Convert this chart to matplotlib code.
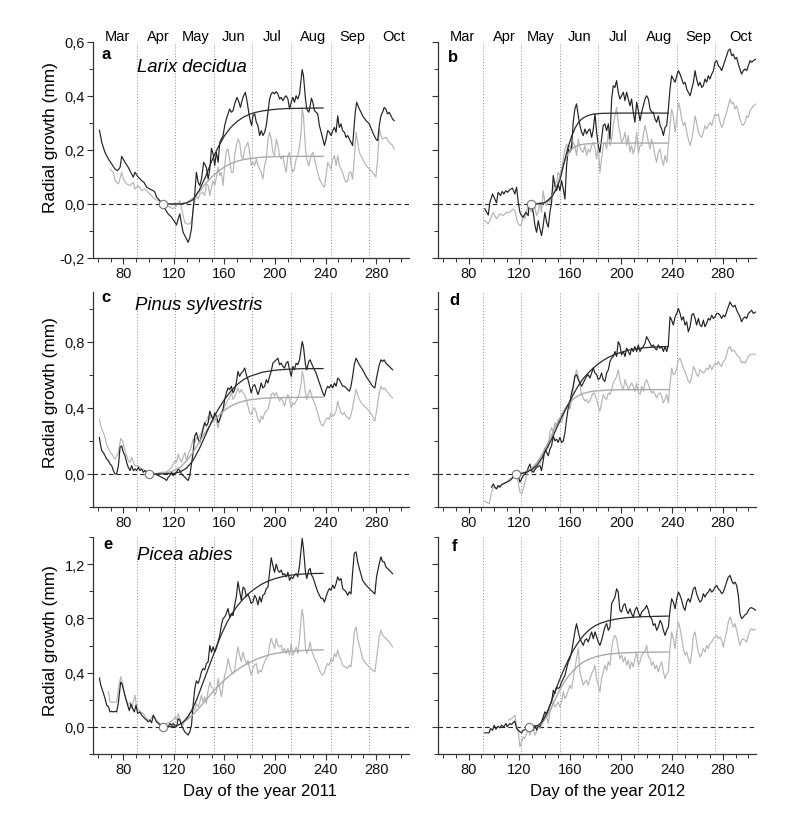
import matplotlib
matplotlib.use('Agg')
import matplotlib.pyplot as plt
from matplotlib.ticker import MultipleLocator, FixedLocator, FuncFormatter
import matplotlib.transforms as mtrans

plt.rcParams['font.family'] = ['Liberation Sans', 'DejaVu Sans']

# ---------------- data ----------------
months = ['Mar', 'Apr', 'May', 'Jun', 'Jul', 'Aug', 'Sep', 'Oct']
month_label_days = [75, 108, 137, 167, 198, 230, 261, 294]
month_start_days = [91, 121, 152, 182, 213, 244, 274]
x_major_ticks = [80, 120, 160, 200, 240, 280]
panel_letters = ['a', 'b', 'c', 'd', 'e', 'f']
species = ['Larix decidua', 'Pinus sylvestris', 'Picea abies']
xlabels = ['Day of the year 2011', 'Day of the year 2012']
ylabel = 'Radial growth (mm)'

# onset points (day, value)
onsets = {'a': (111.6, 0.0), 'b': (129.0, 0.0), 'c': (100.5, 0.0),
          'd': (117.2, 0.0), 'e': (111.6, 0.0), 'f': (127.7, 0.0)}

# ---- panel a (Larix 2011) ----
a_black = [(61.1,0.273),(62.9,0.228),(65.5,0.19),(68.2,0.166),(70.8,0.148),(73.4,0.129),(75.3,0.123),(77.4,0.135),(78.7,0.176),(81.3,0.154),(83.9,0.135),(86.6,0.111),(87.9,0.099),(89.2,0.117),(91.8,0.099),(94.5,0.086),(96.3,0.080),(98.4,0.062),(101.0,0.055),(103.7,0.049),(105.0,0.043),(106.3,0.025),(108.9,0.012),(111.0,0.0),(112.9,-0.018),(115.5,-0.037),(118.1,-0.049),(120.8,-0.068),(122.1,-0.078),(123.4,-0.055),(124.7,-0.037),(126.0,-0.074),(127.3,-0.105),(129.2,-0.123),(131.3,-0.142),(132.6,-0.123),(133.9,-0.092),(135.2,-0.018),(136.5,0.037),(137.8,0.117),(139.2,0.080),(140.5,0.068),(141.8,0.092),(143.6,0.154),(145.7,0.135),(147.1,0.092),(148.4,0.129),(149.7,0.206),(151.0,0.185),(152.3,0.142),(153.6,0.191),(155.0,0.154),(156.3,0.228),(157.6,0.24),(158.9,0.253),(160.2,0.29),(161.5,0.314),(162.8,0.333),(164.1,0.351),(165.5,0.339),(166.8,0.345),(168.1,0.37),(169.4,0.388),(169.9,0.394),(171.5,0.376),(172.6,0.357),(173.9,0.382),(175.2,0.4),(176.5,0.413),(177.8,0.382),(179.4,0.333),(180.4,0.308),(181.5,0.29),(182.5,0.326),(183.9,0.333),(185.2,0.302),(186.5,0.29),(187.8,0.253),(189.1,0.271),(190.4,0.253),(191.8,0.265),(193.1,0.29),(194.4,0.339),(195.7,0.388),(197.0,0.407),(198.3,0.413),(199.6,0.407),(201.0,0.415),(202.3,0.407),(203.6,0.388),(204.9,0.394),(206.2,0.382),(207.5,0.394),(208.8,0.40),(210.2,0.388),(211.5,0.351),(212.8,0.376),(214.1,0.394),(215.4,0.376),(216.7,0.40),(218.0,0.388),(219.4,0.407),(220.7,0.462),(221.5,0.497),(222.5,0.474),(224.1,0.388),(225.1,0.351),(226.7,0.339),(227.8,0.363),(228.8,0.391),(229.9,0.376),(231.2,0.345),(232.5,0.339),(233.8,0.333),(235.1,0.29),(236.5,0.265),(237.8,0.24),(239.1,0.216),(240.4,0.24),(241.7,0.271),(243.0,0.265),(244.3,0.253),(245.7,0.271),(247.0,0.283),(248.3,0.265),(249.6,0.326),(250.9,0.283),(252.2,0.296),(253.5,0.271),(254.9,0.265),(256.2,0.246),(257.5,0.253),(258.8,0.24),(260.1,0.228),(261.4,0.216),(262.2,0.265),(263.5,0.339),(264.6,0.376),(266.2,0.357),(268.0,0.339),(269.3,0.326),(272.0,0.308),(274.6,0.296),(277.2,0.265),(279.8,0.24),(281.2,0.234),(282.5,0.29),(283.8,0.326),(285.1,0.339),(286.4,0.357),(287.7,0.351),(289.0,0.333),(290.4,0.339),(291.7,0.326),(293.0,0.314),(294.3,0.308)]
a_gray = [(69.5,0.129),(72.1,0.117),(73.4,0.086),(76.1,0.074),(78.7,0.117),(80.0,0.092),(82.6,0.074),(85.3,0.068),(87.9,0.080),(89.2,0.055),(91.8,0.068),(94.5,0.049),(97.1,0.055),(99.7,0.043),(102.4,0.031),(105.0,0.018),(107.6,0.012),(110.2,0.006),(111.6,0.0),(114.2,-0.006),(116.8,-0.012),(119.4,-0.018),(122.1,-0.006),(124.7,0.012),(127.3,-0.043),(128.6,-0.068),(130.0,-0.074),(132.6,-0.074),(133.9,-0.062),(135.2,-0.031),(136.5,0.012),(137.8,0.031),(139.2,0.018),(140.5,0.037),(143.1,0.043),(144.4,0.031),(145.7,0.074),(147.1,0.068),(148.4,0.031),(149.7,0.062),(151.0,0.086),(152.3,0.068),(153.6,0.099),(155.0,0.136),(156.3,0.105),(157.6,0.117),(158.9,0.068),(160.2,0.142),(161.5,0.197),(162.8,0.203),(164.1,0.166),(165.5,0.117),(166.8,0.117),(168.1,0.179),(169.4,0.216),(170.7,0.24),(172.0,0.228),(173.3,0.179),(174.7,0.166),(176.0,0.203),(177.3,0.216),(178.6,0.228),(179.9,0.191),(181.2,0.142),(182.5,0.154),(183.9,0.142),(185.2,0.166),(186.5,0.142),(187.8,0.129),(189.1,0.117),(190.4,0.092),(191.8,0.142),(193.1,0.166),(194.4,0.24),(195.7,0.265),(197.0,0.24),(198.3,0.191),(199.6,0.179),(201.0,0.24),(202.3,0.216),(203.6,0.179),(204.9,0.166),(206.2,0.179),(207.5,0.142),(208.8,0.117),(210.2,0.179),(211.5,0.191),(212.8,0.142),(214.1,0.117),(215.4,0.129),(216.7,0.166),(218.0,0.179),(219.4,0.216),(220.7,0.265),(221.5,0.351),(222.5,0.326),(224.1,0.203),(225.1,0.166),(226.7,0.142),(228.5,0.179),(229.9,0.191),(231.2,0.166),(232.5,0.142),(233.8,0.117),(235.1,0.092),(236.5,0.080),(237.8,0.068),(239.1,0.062),(240.4,0.105),(241.7,0.154),(243.0,0.142),(244.3,0.129),(245.7,0.166),(247.0,0.179),(248.3,0.142),(249.6,0.179),(250.9,0.142),(252.2,0.129),(253.5,0.117),(254.9,0.092),(256.2,0.080),(257.5,0.086),(258.8,0.117),(260.1,0.117),(261.4,0.092),(262.7,0.166),(264.1,0.265),(265.4,0.228),(266.7,0.191),(269.3,0.166),(272.0,0.142),(274.6,0.129),(277.2,0.117),(279.8,0.099),(281.2,0.166),(282.5,0.277),(283.8,0.253),(285.1,0.24),(287.7,0.246),(290.4,0.228),(293.0,0.216),(294.3,0.203)]
a_fit_black = [(111.6,0.0),(125,0.0),(130,0.003),(135,0.015),(140,0.05),(145,0.1),(150,0.16),(155,0.21),(160,0.252),(165,0.283),(170,0.305),(175,0.321),(180,0.332),(185,0.339),(190,0.344),(200,0.35),(210,0.353),(225,0.354),(238,0.355)]
a_fit_gray = [(111.6,0.0),(125,0.0),(130,0.005),(135,0.02),(140,0.045),(145,0.075),(150,0.1),(155,0.12),(160,0.137),(165,0.149),(170,0.158),(175,0.164),(180,0.168),(190,0.173),(200,0.175),(215,0.176),(238,0.176)]

# ---- panel b (Larix 2012) ----
b_black = [(92.8,-0.018),(95.5,-0.041),(96.8,0.006),(98.9,0.037),(100.7,0.018),(102.0,0.004),(103.3,0.043),(105.2,0.031),(106.5,0.046),(107.8,0.037),(109.4,0.049),(110.7,0.043),(112.5,0.053),(114.6,0.058),(116.4,0.037),(117.8,0.062),(119.1,0.006),(120.4,-0.031),(121.7,-0.043),(123.0,-0.049),(125.1,-0.031),(126.9,-0.043),(127.7,0.0),(129.6,-0.012),(130.9,-0.031),(132.2,-0.080),(133.5,-0.105),(134.8,-0.062),(136.1,-0.092),(137.4,-0.117),(138.7,-0.080),(140.0,-0.031),(141.4,-0.068),(142.7,-0.086),(144.0,-0.031),(145.3,0.006),(146.6,0.105),(147.9,0.068),(149.2,0.049),(150.5,0.074),(151.8,0.049),(153.2,0.086),(154.5,0.055),(155.8,0.018),(157.1,0.142),(158.4,0.203),(159.7,0.191),(161.0,0.209),(162.3,0.302),(163.6,0.351),(164.9,0.370),(166.3,0.326),(167.6,0.290),(168.9,0.265),(170.2,0.253),(171.5,0.277),(172.8,0.259),(174.1,0.271),(175.4,0.277),(176.8,0.246),(178.1,0.277),(179.4,0.333),(180.7,0.265),(182.0,0.216),(183.3,0.191),(184.6,0.240),(185.9,0.290),(187.2,0.296),(188.6,0.271),(189.9,0.296),(191.2,0.240),(192.5,0.388),(193.8,0.437),(195.1,0.431),(196.4,0.456),(197.7,0.413),(199.0,0.388),(200.3,0.400),(201.7,0.413),(203.0,0.382),(204.3,0.413),(205.6,0.388),(206.9,0.363),(208.2,0.388),(209.5,0.339),(210.8,0.302),(212.2,0.376),(213.5,0.345),(214.8,0.308),(216.1,0.339),(217.4,0.363),(218.7,0.388),(220.0,0.400),(221.4,0.388),(222.7,0.351),(224.0,0.339),(225.3,0.339),(226.6,0.314),(227.9,0.302),(229.2,0.326),(230.6,0.290),(231.9,0.277),(233.2,0.253),(234.5,0.283),(235.8,0.290),(237.1,0.351),(238.4,0.425),(239.7,0.474),(241.0,0.462),(242.4,0.450),(243.7,0.474),(245.0,0.493),(246.3,0.480),(247.6,0.462),(248.9,0.444),(250.2,0.450),(251.5,0.425),(252.8,0.413),(254.2,0.400),(255.5,0.425),(256.8,0.450),(258.1,0.493),(259.3,0.462),(260.7,0.437),(262.0,0.450),(263.3,0.431),(264.6,0.437),(265.9,0.462),(267.2,0.450),(268.5,0.474),(269.8,0.462),(271.2,0.480),(272.5,0.493),(273.8,0.524),(275.1,0.530),(276.4,0.511),(277.7,0.505),(279.0,0.493),(280.3,0.511),(281.6,0.530),(282.9,0.548),(284.2,0.567),(285.6,0.573),(286.9,0.548),(288.2,0.554),(289.5,0.536),(290.8,0.542),(292.1,0.517),(293.4,0.499),(294.7,0.480),(296.0,0.493),(297.4,0.499),(298.7,0.493),(300.0,0.511),(301.3,0.530),(302.6,0.524),(303.9,0.530),(306.0,0.536)]
b_gray = [(92.8,-0.062),(95.5,-0.074),(96.8,-0.062),(99.4,-0.031),(102.0,-0.055),(104.6,-0.037),(107.3,-0.043),(109.9,-0.031),(112.5,-0.031),(115.1,-0.018),(116.4,-0.025),(117.8,-0.055),(119.1,-0.074),(120.4,-0.080),(121.7,-0.074),(123.0,-0.043),(124.3,-0.055),(125.6,-0.031),(126.9,-0.006),(129.6,-0.031),(132.2,-0.012),(133.5,-0.043),(134.8,-0.031),(136.1,0.006),(137.4,-0.031),(138.7,0.049),(140.0,0.006),(141.4,-0.006),(142.7,0.018),(144.0,0.006),(145.3,0.037),(146.6,0.055),(147.9,0.074),(149.2,0.086),(150.5,0.117),(151.8,0.105),(153.2,0.123),(154.5,0.166),(155.8,0.203),(157.1,0.222),(158.4,0.203),(159.7,0.216),(161.0,0.203),(162.3,0.228),(163.6,0.216),(164.9,0.179),(166.3,0.240),(167.6,0.209),(168.9,0.197),(170.2,0.191),(171.5,0.216),(172.8,0.179),(174.1,0.203),(175.4,0.191),(176.8,0.216),(178.1,0.228),(179.4,0.209),(180.7,0.166),(182.0,0.216),(183.3,0.117),(184.6,0.166),(185.9,0.216),(187.2,0.228),(188.6,0.203),(189.9,0.265),(191.2,0.216),(192.5,0.240),(193.8,0.290),(195.1,0.326),(196.4,0.357),(197.7,0.296),(199.0,0.265),(200.3,0.228),(201.7,0.240),(203.0,0.265),(204.3,0.216),(205.6,0.253),(206.9,0.191),(208.2,0.216),(209.5,0.185),(210.8,0.209),(212.2,0.265),(213.5,0.185),(214.8,0.216),(216.1,0.216),(217.4,0.253),(218.7,0.290),(220.0,0.265),(221.4,0.228),(222.7,0.203),(224.0,0.240),(225.3,0.216),(226.6,0.179),(227.9,0.154),(229.2,0.191),(230.6,0.203),(231.9,0.166),(233.2,0.142),(234.5,0.179),(235.8,0.154),(237.1,0.216),(238.4,0.290),(239.7,0.351),(241.0,0.326),(242.4,0.265),(243.7,0.314),(245.0,0.376),(246.3,0.351),(247.6,0.314),(248.9,0.290),(250.2,0.302),(251.5,0.265),(252.8,0.240),(254.2,0.216),(255.5,0.240),(256.8,0.277),(258.1,0.326),(259.3,0.302),(260.7,0.265),(262.0,0.253),(263.3,0.246),(264.6,0.265),(265.9,0.290),(267.2,0.277),(268.5,0.290),(269.8,0.302),(271.2,0.290),(272.5,0.314),(273.8,0.333),(275.1,0.326),(276.4,0.333),(277.7,0.302),(279.0,0.283),(280.3,0.296),(281.6,0.320),(282.9,0.339),(284.2,0.363),(285.6,0.388),(286.9,0.370),(288.2,0.376),(289.5,0.351),(290.8,0.363),(292.1,0.339),(293.4,0.314),(294.7,0.296),(296.0,0.290),(297.4,0.302),(298.7,0.326),(300.0,0.320),(301.3,0.345),(303.9,0.363),(306.0,0.370)]
b_fit_black = [(129,0.0),(135,0.0),(140,0.005),(143,0.015),(146,0.03),(149,0.055),(152,0.09),(155,0.15),(158,0.205),(161,0.25),(164,0.283),(167,0.305),(170,0.318),(174,0.327),(178,0.332),(185,0.335),(200,0.336),(237,0.336)]
b_fit_gray = [(129,0.0),(140,0.005),(145,0.025),(148,0.05),(151,0.09),(154,0.14),(157,0.175),(160,0.197),(163,0.21),(167,0.218),(172,0.222),(180,0.224),(200,0.225),(237,0.225)]

# ---- panel c (Pinus 2011) ----
c_black = [(61.1,0.22),(61.6,0.19),(62.9,0.14),(64.2,0.13),(65.5,0.11),(66.8,0.09),(68.2,0.08),(69.5,0.06),(70.8,0.05),(72.1,0.02),(73.4,0.0),(74.7,0.0),(76.1,0.05),(77.4,0.16),(78.7,0.17),(80.0,0.13),(81.3,0.11),(82.6,0.07),(83.9,0.04),(85.3,0.02),(86.6,0.05),(87.9,0.02),(89.2,0.03),(90.5,0.02),(91.8,0.04),(93.1,0.02),(94.5,0.03),(95.8,0.01),(97.1,0.02),(98.4,0.01),(99.7,0.0),(102.4,0.01),(105.0,0.0),(107.6,-0.01),(110.2,-0.02),(112.9,-0.03),(114.2,-0.04),(115.5,-0.02),(116.8,-0.01),(118.1,0.01),(119.4,-0.01),(120.8,0.0),(122.1,0.01),(123.4,0.03),(124.7,0.02),(126.0,0.0),(127.3,-0.01),(128.6,-0.02),(131.3,-0.04),(132.6,-0.01),(133.9,0.06),(135.2,0.13),(136.5,0.23),(137.8,0.25),(139.2,0.21),(140.5,0.19),(141.8,0.23),(143.1,0.27),(144.4,0.31),(145.7,0.29),(147.1,0.31),(148.4,0.38),(149.7,0.35),(151.0,0.33),(152.3,0.37),(153.6,0.35),(155.0,0.31),(156.3,0.33),(157.6,0.37),(158.9,0.39),(160.2,0.45),(161.5,0.49),(162.8,0.52),(164.1,0.51),(165.5,0.53),(166.8,0.49),(168.1,0.51),(169.4,0.55),(170.7,0.62),(172.0,0.59),(173.3,0.61),(174.7,0.62),(176.0,0.64),(177.3,0.60),(178.6,0.57),(179.9,0.53),(181.2,0.49),(182.5,0.53),(183.9,0.54),(185.2,0.51),(186.5,0.48),(187.8,0.51),(189.1,0.55),(190.4,0.52),(191.8,0.53),(193.1,0.57),(194.4,0.55),(195.7,0.59),(197.0,0.62),(198.3,0.67),(199.6,0.68),(201.0,0.69),(202.3,0.70),(203.6,0.66),(204.9,0.67),(206.2,0.65),(207.5,0.64),(208.8,0.67),(210.2,0.68),(211.5,0.63),(212.8,0.59),(214.1,0.65),(215.4,0.63),(216.7,0.67),(218.0,0.66),(219.4,0.69),(220.7,0.76),(221.5,0.80),(222.5,0.77),(224.1,0.66),(225.1,0.63),(226.7,0.68),(227.8,0.69),(228.8,0.67),(229.9,0.65),(231.2,0.63),(232.5,0.61),(233.8,0.58),(235.1,0.55),(236.5,0.52),(237.8,0.49),(239.1,0.47),(240.4,0.51),(241.7,0.53),(243.0,0.52),(244.3,0.54),(245.7,0.52),(247.0,0.55),(248.3,0.53),(249.6,0.58),(250.9,0.57),(252.2,0.55),(253.5,0.53),(254.9,0.53),(256.2,0.52),(257.5,0.51),(258.8,0.50),(260.1,0.53),(261.4,0.59),(262.7,0.66),(264.1,0.70),(265.4,0.68),(266.7,0.66),(269.3,0.63),(272.0,0.59),(274.6,0.56),(277.2,0.53),(279.0,0.52),(280.3,0.58),(282.5,0.66),(283.8,0.69),(285.1,0.68),(286.4,0.69),(287.7,0.67),(290.4,0.65),(293.0,0.63)]
c_gray = [(61.1,0.33),(62.9,0.27),(64.2,0.25),(65.5,0.22),(66.8,0.18),(68.2,0.15),(70.8,0.12),(73.4,0.09),(76.1,0.13),(77.9,0.214),(79.5,0.20),(81.3,0.14),(82.6,0.11),(83.9,0.08),(85.3,0.07),(86.6,0.10),(87.9,0.07),(89.2,0.05),(91.8,0.05),(94.5,0.03),(97.1,0.02),(99.7,0.014),(102.4,0.01),(105.0,0.0),(107.6,0.004),(110.2,0.01),(112.9,0.01),(115.5,0.02),(118.1,0.04),(119.4,0.06),(120.8,0.08),(122.1,0.07),(123.4,0.12),(124.7,0.09),(126.0,0.07),(127.3,0.10),(128.6,0.13),(130.0,0.08),(131.3,0.12),(132.6,0.14),(133.9,0.17),(135.2,0.21),(136.5,0.19),(137.8,0.22),(139.2,0.21),(140.5,0.23),(141.8,0.25),(143.1,0.29),(144.4,0.31),(145.7,0.32),(147.1,0.35),(148.4,0.33),(149.7,0.36),(151.0,0.33),(152.3,0.35),(153.6,0.32),(155.0,0.28),(156.3,0.33),(157.6,0.35),(158.9,0.38),(160.2,0.41),(161.5,0.43),(162.8,0.45),(164.1,0.46),(165.5,0.49),(166.8,0.45),(168.1,0.47),(169.4,0.49),(170.7,0.52),(172.0,0.49),(173.3,0.51),(174.7,0.49),(176.0,0.48),(177.3,0.45),(178.6,0.41),(179.9,0.37),(181.2,0.36),(182.5,0.39),(183.9,0.40),(185.2,0.37),(186.5,0.33),(187.8,0.31),(189.1,0.35),(190.4,0.33),(191.8,0.37),(193.1,0.38),(194.4,0.39),(195.7,0.43),(197.0,0.48),(198.3,0.49),(199.6,0.47),(201.0,0.49),(202.3,0.47),(203.6,0.44),(204.9,0.46),(206.2,0.44),(207.5,0.41),(208.8,0.45),(210.2,0.48),(211.5,0.45),(212.8,0.40),(214.1,0.43),(215.4,0.42),(216.7,0.44),(218.0,0.46),(219.4,0.49),(220.7,0.55),(221.5,0.62),(222.5,0.59),(224.1,0.49),(225.1,0.45),(226.7,0.49),(227.8,0.51),(228.8,0.48),(229.9,0.45),(231.2,0.43),(232.5,0.40),(233.8,0.37),(235.1,0.33),(236.5,0.30),(237.8,0.29),(239.1,0.31),(240.4,0.33),(241.7,0.34),(243.0,0.33),(244.3,0.37),(245.7,0.35),(247.0,0.36),(248.3,0.38),(249.6,0.44),(250.9,0.40),(252.2,0.37),(253.5,0.36),(254.9,0.37),(256.2,0.35),(257.5,0.34),(258.8,0.33),(260.1,0.36),(261.4,0.40),(262.7,0.46),(264.1,0.51),(265.4,0.48),(266.7,0.45),(269.3,0.42),(272.0,0.40),(274.6,0.38),(277.2,0.35),(279.0,0.32),(280.3,0.38),(282.5,0.49),(283.8,0.53),(285.1,0.51),(286.4,0.52),(287.7,0.51),(290.4,0.48),(293.0,0.46)]
c_fit_black = [(100.5,0.0),(110,0.0),(120,0.003),(125,0.012),(130,0.035),(135,0.08),(140,0.15),(145,0.235),(150,0.32),(155,0.39),(160,0.45),(165,0.5),(170,0.54),(175,0.57),(180,0.59),(190,0.615),(200,0.627),(210,0.633),(220,0.636),(238,0.637)]
c_fit_gray = [(100.5,0.0),(110,0.003),(115,0.008),(120,0.02),(125,0.04),(130,0.08),(135,0.13),(140,0.19),(145,0.255),(150,0.31),(155,0.35),(160,0.385),(165,0.41),(170,0.428),(175,0.44),(180,0.448),(190,0.457),(200,0.461),(215,0.463),(238,0.464)]

# ---- panel d (Pinus 2012) ----
d_black = [(98.1,-0.08),(99.4,-0.06),(100.7,-0.08),(102.0,-0.09),(103.3,-0.07),(104.6,-0.08),(106.0,-0.066),(107.3,-0.06),(109.9,-0.05),(112.5,-0.04),(115.1,-0.02),(116.4,-0.01),(119.1,-0.01),(120.4,-0.05),(121.7,-0.03),(123.0,-0.01),(124.3,0.0),(125.6,0.01),(128.2,0.06),(129.6,0.02),(130.9,0.01),(133.5,0.04),(136.1,0.05),(137.4,0.02),(138.7,0.08),(140.0,0.15),(141.4,0.13),(142.7,0.11),(144.0,0.15),(145.3,0.17),(146.6,0.23),(147.9,0.20),(149.2,0.21),(150.5,0.19),(151.8,0.22),(153.2,0.19),(154.5,0.20),(155.8,0.25),(157.1,0.33),(158.4,0.40),(159.7,0.43),(161.0,0.49),(162.3,0.53),(163.6,0.59),(164.9,0.60),(166.3,0.57),(167.6,0.55),(168.9,0.53),(170.2,0.55),(171.5,0.57),(172.8,0.59),(174.1,0.60),(175.4,0.58),(176.8,0.61),(178.1,0.64),(179.4,0.61),(180.7,0.60),(182.0,0.57),(183.3,0.58),(184.6,0.61),(185.9,0.57),(187.2,0.56),(188.6,0.61),(189.9,0.63),(191.2,0.68),(192.5,0.70),(193.8,0.71),(195.1,0.74),(196.4,0.71),(197.7,0.80),(199.0,0.78),(200.3,0.72),(201.7,0.74),(203.0,0.71),(204.3,0.76),(205.6,0.74),(206.9,0.72),(208.2,0.76),(209.5,0.74),(210.8,0.77),(212.2,0.74),(213.5,0.78),(214.8,0.74),(216.1,0.76),(217.4,0.77),(218.7,0.79),(220.0,0.83),(221.4,0.81),(222.7,0.79),(224.0,0.77),(225.3,0.78),(226.6,0.76),(227.9,0.75),(229.2,0.78),(230.6,0.76),(231.9,0.77),(233.2,0.74),(234.5,0.77),(235.8,0.74),(237.1,0.78),(238.4,0.95),(239.7,0.93),(241.0,0.90),(242.4,0.95),(243.7,0.97),(245.0,1.0),(246.3,0.97),(247.6,0.93),(248.9,0.95),(250.2,0.90),(251.5,0.92),(252.8,0.86),(254.2,0.89),(255.5,0.96),(256.8,0.97),(258.1,0.94),(259.3,0.90),(260.7,0.94),(262.0,0.90),(263.3,0.89),(264.6,0.93),(265.9,0.89),(267.2,0.91),(268.5,0.94),(269.8,0.93),(271.2,0.96),(272.5,0.94),(273.8,0.95),(275.1,0.97),(276.4,0.97),(277.7,0.96),(279.0,0.94),(280.3,0.96),(281.6,0.95),(282.9,0.98),(284.2,1.01),(285.6,1.04),(286.9,1.02),(288.2,1.01),(289.5,1.02),(290.8,0.99),(292.1,0.97),(293.4,0.95),(294.7,0.92),(296.0,0.94),(297.4,0.95),(298.7,0.94),(300.0,0.97),(301.3,0.98),(302.6,0.99),(303.9,0.97),(306.0,0.98)]
d_gray = [(92.8,-0.166),(94.7,-0.174),(96.3,-0.18),(98.1,-0.11),(99.4,-0.08),(102.0,-0.09),(104.6,-0.07),(107.3,-0.06),(109.9,-0.05),(112.5,-0.03),(115.1,-0.02),(117.8,-0.01),(119.1,-0.05),(120.4,-0.11),(121.7,-0.12),(123.0,-0.09),(124.3,-0.05),(125.6,-0.01),(126.9,0.02),(128.2,0.03),(129.6,0.01),(130.9,0.02),(133.5,0.05),(136.1,0.06),(137.4,0.09),(138.7,0.13),(140.0,0.15),(141.4,0.17),(142.7,0.16),(144.0,0.25),(145.3,0.28),(146.6,0.25),(147.9,0.31),(149.2,0.29),(150.5,0.33),(151.8,0.32),(153.2,0.31),(154.5,0.35),(155.8,0.39),(157.1,0.41),(158.4,0.42),(159.7,0.39),(161.0,0.45),(162.3,0.51),(163.6,0.59),(164.9,0.63),(166.3,0.59),(167.6,0.53),(168.9,0.48),(170.2,0.46),(171.5,0.44),(172.8,0.45),(174.1,0.43),(175.4,0.44),(176.8,0.47),(178.1,0.49),(179.4,0.48),(180.7,0.45),(182.0,0.41),(183.3,0.38),(184.6,0.43),(185.9,0.48),(187.2,0.46),(188.6,0.45),(189.9,0.49),(191.2,0.48),(192.5,0.51),(193.8,0.55),(195.1,0.57),(196.4,0.59),(197.7,0.63),(199.0,0.57),(200.3,0.53),(201.7,0.51),(203.0,0.57),(204.3,0.54),(205.6,0.51),(206.9,0.53),(208.2,0.55),(209.5,0.53),(210.8,0.50),(212.2,0.55),(213.5,0.49),(214.8,0.48),(216.1,0.53),(217.4,0.50),(218.7,0.55),(220.0,0.57),(221.4,0.54),(222.7,0.51),(224.0,0.49),(225.3,0.50),(226.6,0.48),(227.9,0.46),(229.2,0.48),(230.6,0.49),(231.9,0.47),(233.2,0.43),(234.5,0.45),(235.8,0.48),(237.1,0.43),(238.4,0.54),(239.7,0.64),(241.0,0.60),(242.4,0.61),(243.7,0.64),(245.0,0.69),(246.3,0.70),(247.6,0.67),(248.9,0.64),(250.2,0.62),(251.5,0.59),(252.8,0.56),(254.2,0.55),(255.5,0.59),(256.8,0.65),(258.1,0.63),(259.3,0.60),(260.7,0.59),(262.0,0.63),(263.3,0.62),(264.6,0.61),(265.9,0.62),(267.2,0.64),(268.5,0.63),(269.8,0.66),(271.2,0.63),(272.5,0.65),(273.8,0.67),(275.1,0.66),(276.4,0.68),(277.7,0.66),(279.0,0.65),(280.3,0.68),(281.6,0.69),(282.9,0.72),(284.2,0.76),(285.6,0.77),(286.9,0.74),(288.2,0.75),(289.5,0.74),(290.8,0.72),(292.1,0.71),(293.4,0.70),(294.7,0.67),(296.0,0.68),(297.4,0.67),(298.7,0.69),(300.0,0.71),(301.3,0.72),(303.9,0.726),(306.0,0.72)]
d_fit_black = [(117.2,0.0),(122,0.003),(126,0.012),(130,0.028),(134,0.055),(138,0.1),(142,0.16),(146,0.22),(150,0.29),(154,0.355),(158,0.415),(162,0.475),(166,0.53),(170,0.575),(174,0.61),(178,0.64),(182,0.665),(186,0.687),(190,0.705),(195,0.722),(200,0.735),(205,0.747),(210,0.755),(215,0.76),(220,0.764),(228,0.768),(237,0.77)]
d_fit_gray = [(117.2,0.0),(122,0.005),(126,0.015),(130,0.035),(134,0.07),(138,0.12),(142,0.18),(146,0.245),(150,0.31),(154,0.37),(158,0.415),(162,0.45),(166,0.472),(170,0.486),(175,0.496),(180,0.502),(190,0.507),(200,0.509),(237,0.51)]

# ---- panel e (Picea 2011) ----
e_black = [(61.1,0.36),(62.1,0.31),(64.2,0.25),(65.5,0.21),(66.8,0.16),(68.2,0.15),(69.5,0.11),(70.8,0.115),(72.1,0.11),(73.4,0.115),(74.7,0.11),(76.1,0.18),(77.9,0.33),(79.2,0.31),(80.5,0.26),(82.1,0.20),(83.4,0.16),(84.7,0.12),(86.0,0.17),(87.4,0.135),(88.7,0.11),(90.0,0.16),(91.3,0.10),(93.2,0.11),(94.5,0.086),(95.8,0.074),(97.1,0.06),(98.4,0.05),(99.7,0.037),(101.0,0.05),(102.4,0.03),(103.7,0.086),(105.0,0.06),(106.3,0.037),(107.6,0.025),(108.9,0.017),(110.2,0.007),(111.6,0.0),(114.2,0.012),(115.5,0.0),(116.8,0.025),(118.1,0.012),(119.4,0.025),(120.8,0.012),(122.1,0.0),(123.4,0.06),(124.7,0.05),(126.0,0.012),(127.3,-0.012),(128.6,-0.037),(131.3,-0.06),(132.6,-0.037),(133.9,0.012),(135.2,0.16),(136.5,0.28),(137.8,0.34),(139.2,0.32),(140.5,0.357),(141.8,0.406),(143.1,0.43),(144.4,0.42),(145.7,0.467),(147.1,0.48),(148.4,0.60),(149.7,0.55),(151.0,0.59),(152.3,0.55),(153.6,0.58),(155.0,0.627),(156.3,0.676),(157.6,0.75),(158.9,0.80),(160.2,0.81),(161.5,0.836),(162.8,0.873),(164.1,0.81),(165.5,0.836),(166.8,0.82),(168.1,0.90),(169.4,0.96),(170.7,1.07),(172.0,1.0),(173.3,0.934),(174.7,1.03),(176.0,1.02),(177.3,0.96),(178.6,0.98),(179.9,0.947),(181.2,0.91),(182.5,0.92),(183.9,0.97),(185.2,0.947),(186.5,0.90),(187.8,0.96),(189.1,0.92),(190.4,0.97),(191.8,0.98),(193.1,1.02),(194.4,1.03),(195.7,1.14),(197.0,1.247),(198.3,1.19),(199.6,1.14),(201.0,1.20),(202.3,1.156),(203.6,1.14),(204.9,1.156),(206.2,1.12),(207.5,1.13),(208.8,1.106),(210.2,1.14),(211.5,1.08),(212.8,1.106),(214.1,1.094),(215.4,1.12),(216.7,1.13),(218.0,1.106),(219.4,1.19),(220.7,1.315),(221.5,1.39),(222.5,1.315),(224.1,1.14),(225.1,1.094),(226.7,1.156),(227.8,1.168),(228.8,1.12),(229.9,1.106),(231.2,1.07),(232.5,1.03),(233.8,0.996),(235.1,0.97),(236.5,0.947),(237.8,0.947),(239.1,0.92),(240.4,0.96),(241.7,0.996),(243.0,1.02),(244.3,1.008),(245.7,1.045),(247.0,1.02),(248.3,1.057),(249.6,1.106),(250.9,1.08),(252.2,1.094),(253.5,1.02),(254.9,1.008),(256.2,0.996),(257.5,0.97),(258.8,0.996),(260.1,0.98),(261.4,1.14),(262.7,1.28),(264.1,1.29),(265.4,1.217),(266.7,1.168),(269.3,1.08),(272.0,1.045),(274.6,1.02),(277.2,0.996),(279.0,0.98),(280.3,1.106),(282.5,1.205),(283.8,1.254),(285.1,1.217),(286.4,1.217),(287.7,1.18),(290.4,1.156),(293.0,1.13)]
e_gray = [(68.2,0.258),(69.5,0.184),(72.1,0.18),(74.7,0.184),(76.6,0.307),(77.9,0.369),(79.2,0.33),(80.5,0.258),(82.1,0.21),(83.9,0.16),(85.3,0.184),(86.6,0.135),(87.9,0.184),(89.2,0.234),(90.5,0.148),(93.2,0.11),(95.8,0.098),(98.4,0.06),(101.0,0.05),(103.7,0.086),(106.3,0.05),(108.9,0.025),(111.6,0.012),(114.2,0.025),(116.8,0.037),(119.4,0.05),(120.8,0.074),(122.1,0.05),(123.4,0.098),(124.7,0.06),(126.0,0.025),(127.3,0.012),(128.6,0.05),(130.0,0.074),(131.3,0.06),(132.6,0.098),(133.9,0.11),(135.2,0.148),(136.5,0.123),(137.8,0.172),(139.2,0.148),(140.5,0.184),(141.8,0.234),(143.1,0.184),(144.4,0.221),(145.7,0.172),(147.1,0.27),(148.4,0.33),(149.7,0.295),(151.0,0.283),(152.3,0.234),(153.6,0.258),(155.0,0.357),(156.3,0.283),(157.6,0.221),(158.9,0.307),(160.2,0.381),(161.5,0.418),(162.8,0.504),(164.1,0.455),(165.5,0.406),(166.8,0.393),(168.1,0.418),(169.4,0.516),(170.7,0.59),(172.0,0.529),(173.3,0.48),(174.7,0.553),(176.0,0.504),(177.3,0.467),(178.6,0.49),(179.9,0.43),(181.2,0.381),(182.5,0.43),(183.9,0.455),(185.2,0.467),(186.5,0.393),(187.8,0.418),(189.1,0.406),(190.4,0.443),(191.8,0.48),(193.1,0.504),(194.4,0.516),(195.7,0.602),(197.0,0.652),(198.3,0.615),(199.6,0.578),(201.0,0.652),(202.3,0.602),(203.6,0.59),(204.9,0.602),(206.2,0.553),(207.5,0.578),(208.8,0.541),(210.2,0.578),(211.5,0.529),(212.8,0.615),(214.1,0.529),(215.4,0.553),(216.7,0.59),(218.0,0.541),(219.4,0.652),(220.7,0.80),(221.5,0.866),(222.5,0.80),(224.1,0.578),(225.1,0.541),(226.7,0.578),(227.8,0.627),(228.8,0.566),(229.9,0.541),(231.2,0.504),(232.5,0.48),(233.8,0.455),(235.1,0.418),(236.5,0.393),(237.8,0.381),(239.1,0.406),(240.4,0.443),(241.7,0.467),(243.0,0.455),(244.3,0.504),(245.7,0.48),(247.0,0.541),(248.3,0.516),(249.6,0.566),(250.9,0.516),(252.2,0.492),(253.5,0.455),(254.9,0.443),(256.2,0.443),(257.5,0.43),(258.8,0.455),(260.1,0.443),(261.4,0.553),(262.7,0.70),(264.1,0.738),(265.4,0.652),(266.7,0.602),(269.3,0.504),(272.0,0.467),(274.6,0.443),(277.2,0.418),(279.0,0.406),(280.3,0.504),(282.5,0.664),(283.8,0.713),(285.1,0.676),(286.4,0.664),(287.7,0.652),(290.4,0.627),(293.0,0.59)]
e_fit_black = [(111.6,0.0),(118,0.002),(122,0.008),(126,0.025),(130,0.06),(134,0.12),(138,0.2),(142,0.3),(146,0.4),(150,0.5),(154,0.6),(158,0.69),(162,0.77),(166,0.835),(170,0.89),(175,0.945),(180,0.99),(185,1.025),(190,1.055),(195,1.077),(200,1.093),(206,1.108),(212,1.118),(220,1.126),(228,1.13),(238,1.132)]
e_fit_gray = [(111.6,0.0),(120,0.005),(125,0.02),(130,0.05),(135,0.09),(140,0.14),(145,0.195),(150,0.25),(155,0.3),(160,0.345),(165,0.385),(170,0.42),(175,0.45),(180,0.475),(185,0.497),(190,0.515),(195,0.53),(200,0.541),(210,0.555),(220,0.562),(230,0.566),(238,0.568)]

# ---- panel f (Picea 2012) ----
f_black = [(92.8,-0.044),(96.2,-0.044),(97.3,-0.012),(98.9,-0.025),(100.2,0.012),(101.5,-0.017),(103.3,0.005),(104.6,-0.007),(106.0,0.012),(107.8,0.0),(109.4,0.025),(110.4,0.0),(112.5,0.025),(113.8,0.017),(115.7,0.037),(116.4,0.042),(117.8,-0.012),(120.4,-0.037),(121.7,-0.044),(123.0,-0.025),(125.1,-0.017),(126.9,0.0),(129.6,0.012),(130.9,-0.025),(132.2,0.012),(133.5,-0.025),(134.8,0.012),(136.1,0.0),(137.4,0.037),(138.7,0.074),(140.0,0.11),(141.4,0.098),(142.7,0.123),(144.0,0.16),(145.3,0.184),(146.6,0.27),(147.9,0.245),(149.2,0.294),(150.5,0.282),(151.8,0.294),(153.2,0.331),(154.5,0.356),(155.8,0.38),(157.1,0.43),(158.4,0.479),(159.7,0.503),(161.0,0.552),(162.3,0.626),(163.6,0.70),(164.9,0.761),(166.3,0.70),(167.6,0.65),(168.9,0.626),(170.2,0.601),(171.5,0.638),(172.8,0.65),(174.1,0.626),(175.4,0.663),(176.8,0.70),(178.1,0.65),(179.4,0.70),(180.7,0.663),(182.0,0.626),(183.3,0.601),(184.6,0.638),(185.9,0.687),(187.2,0.736),(188.6,0.761),(189.9,0.712),(191.2,0.736),(192.5,0.908),(193.8,0.933),(195.1,0.957),(196.4,1.018),(197.7,0.994),(199.0,0.859),(200.3,0.847),(201.7,0.896),(203.0,0.908),(204.3,0.859),(205.6,0.834),(206.9,0.871),(208.2,0.834),(209.5,0.81),(210.8,0.859),(212.2,0.883),(213.5,0.847),(214.8,0.81),(216.1,0.847),(217.4,0.859),(218.7,0.871),(220.0,0.896),(221.4,0.859),(222.7,0.81),(224.0,0.798),(225.3,0.748),(226.6,0.761),(227.9,0.712),(229.2,0.736),(230.6,0.785),(231.9,0.761),(233.2,0.712),(234.5,0.675),(235.8,0.712),(237.1,0.736),(238.4,0.859),(239.7,0.945),(241.0,0.92),(242.4,0.871),(243.7,0.945),(245.0,0.994),(246.3,0.969),(247.6,0.933),(248.9,0.883),(250.2,0.859),(251.5,0.92),(252.8,0.945),(254.2,0.92),(255.5,0.969),(256.8,1.018),(258.1,1.031),(259.3,0.982),(260.7,0.945),(262.0,0.92),(263.3,0.933),(264.6,0.982),(265.9,0.957),(267.2,0.982),(268.5,0.994),(269.8,1.018),(271.2,0.994),(272.5,1.006),(273.8,1.031),(275.1,1.043),(276.4,1.018),(277.7,1.006),(279.0,0.982),(280.3,0.994),(281.6,1.031),(282.9,1.067),(284.2,1.104),(285.6,1.117),(286.9,1.08),(288.2,1.055),(289.5,1.067),(290.8,1.043),(292.1,0.969),(293.4,0.834),(294.7,0.798),(296.0,0.81),(297.4,0.827),(298.7,0.834),(300.0,0.859),(301.3,0.876),(302.6,0.879),(303.9,0.871),(306.0,0.859)]
f_gray = [(111.2,0.049),(113.8,0.061),(116.4,0.086),(117.8,0.012),(119.1,-0.037),(120.4,-0.147),(121.7,-0.11),(123.0,-0.074),(124.3,-0.086),(125.6,-0.049),(126.9,-0.025),(128.2,-0.061),(129.6,-0.025),(130.9,-0.012),(132.2,-0.061),(133.5,-0.037),(134.8,0.0),(136.1,-0.012),(137.4,0.012),(138.7,0.061),(140.0,0.11),(141.4,0.086),(142.7,0.025),(144.0,0.11),(145.3,0.135),(146.6,0.184),(147.9,0.147),(149.2,0.16),(150.5,0.184),(151.8,0.147),(153.2,0.184),(154.5,0.258),(155.8,0.209),(157.1,0.233),(158.4,0.27),(159.7,0.307),(161.0,0.282),(162.3,0.356),(163.6,0.43),(164.9,0.503),(166.3,0.577),(167.6,0.405),(168.9,0.356),(170.2,0.307),(171.5,0.331),(172.8,0.344),(174.1,0.307),(175.4,0.356),(176.8,0.393),(178.1,0.417),(179.4,0.454),(180.7,0.356),(182.0,0.307),(183.3,0.258),(184.6,0.356),(185.9,0.405),(187.2,0.454),(188.6,0.417),(189.9,0.479),(191.2,0.454),(192.5,0.577),(193.8,0.65),(195.1,0.675),(196.4,0.65),(197.7,0.577),(199.0,0.503),(200.3,0.528),(201.7,0.479),(203.0,0.515),(204.3,0.454),(205.6,0.491),(206.9,0.429),(208.2,0.479),(209.5,0.442),(210.8,0.503),(212.2,0.552),(213.5,0.454),(214.8,0.479),(216.1,0.528),(217.4,0.54),(218.7,0.552),(220.0,0.601),(221.4,0.515),(222.7,0.503),(224.0,0.454),(225.3,0.479),(226.6,0.429),(227.9,0.454),(229.2,0.405),(230.6,0.454),(231.9,0.479),(233.2,0.405),(234.5,0.356),(235.8,0.393),(237.1,0.405),(238.4,0.577),(239.7,0.70),(241.0,0.65),(242.4,0.577),(243.7,0.70),(245.0,0.773),(246.3,0.724),(247.6,0.65),(248.9,0.577),(250.2,0.528),(251.5,0.552),(252.8,0.503),(254.2,0.466),(255.5,0.552),(256.8,0.675),(258.1,0.70),(259.3,0.626),(260.7,0.552),(262.0,0.515),(263.3,0.54),(264.6,0.577),(265.9,0.552),(267.2,0.601),(268.5,0.577),(269.8,0.613),(271.2,0.626),(272.5,0.65),(273.8,0.663),(275.1,0.675),(276.4,0.65),(277.7,0.663),(279.0,0.638),(280.3,0.589),(281.6,0.65),(282.9,0.70),(284.2,0.773),(285.6,0.81),(286.9,0.773),(288.2,0.736),(289.5,0.761),(290.8,0.712),(292.1,0.65),(293.4,0.601),(294.7,0.638),(296.0,0.65),(297.4,0.638),(298.7,0.626),(300.0,0.675),(301.3,0.712),(302.6,0.724),(303.9,0.712),(306.0,0.724)]
f_fit_black = [(127.7,0.0),(132,0.003),(135,0.012),(138,0.04),(141,0.09),(144,0.16),(147,0.235),(150,0.31),(153,0.38),(156,0.445),(159,0.505),(162,0.56),(165,0.605),(168,0.645),(171,0.68),(174,0.708),(177,0.73),(180,0.748),(184,0.765),(190,0.783),(196,0.795),(204,0.805),(215,0.812),(237,0.817)]
f_fit_gray = [(127.7,0.0),(132,0.003),(135,0.01),(138,0.03),(141,0.07),(144,0.12),(147,0.18),(150,0.24),(153,0.295),(156,0.34),(159,0.38),(162,0.412),(165,0.44),(168,0.463),(171,0.482),(175,0.5),(180,0.517),(185,0.528),(190,0.537),(200,0.545),(215,0.55),(237,0.552)]

# ---------------- figure ----------------
fig = plt.figure(figsize=(8, 8.29), dpi=100)
W, H = 800.0, 829.0

col_x = [(93, 316), (438, 318)]
row_y = [(42.7, 259.0), (293.0, 508.0), (538.0, 755.0)]
ylims = [(-0.2, 0.6), (-0.2, 1.1), (-0.2, 1.4)]
ymajor = [0.2, 0.4, 0.4]
yminor = [0.1, 0.2, 0.2]

panels = {
    'a': (a_black, a_gray, a_fit_black, a_fit_gray),
    'b': (b_black, b_gray, b_fit_black, b_fit_gray),
    'c': (c_black, c_gray, c_fit_black, c_fit_gray),
    'd': (d_black, d_gray, d_fit_black, d_fit_gray),
    'e': (e_black, e_gray, e_fit_black, e_fit_gray),
    'f': (f_black, f_gray, f_fit_black, f_fit_gray),
}
letter_pos = {'a': (0.028, 0.944), 'b': (0.031, 0.93), 'c': (0.027, 0.977),
              'd': (0.035, 0.964), 'e': (0.032, 0.968), 'f': (0.043, 0.96)}
species_pos = [(0.139, 0.884), (0.133, 0.944), (0.139, 0.92)]

BLACK = '#222222'
GRAY = '#b5b5b5'
SPINE = '#333333'


def fmt(v, p):
    if abs(v) < 1e-9:
        v = 0.0
    return f"{v:.1f}".replace('.', ',')


def xy(lst):
    return [p[0] for p in lst], [p[1] for p in lst]


for r in range(3):
    for c in range(2):
        letter = panel_letters[r * 2 + c]
        x0, w = col_x[c]
        top, bot = row_y[r]
        ax = fig.add_axes([x0 / W, 1 - bot / H, w / W, (bot - top) / H])
        ax.set_xlim(56, 306)
        ax.set_ylim(*ylims[r])
        for sp in ['top', 'right']:
            ax.spines[sp].set_visible(False)
        for sp in ['left', 'bottom']:
            ax.spines[sp].set_color(SPINE)
            ax.spines[sp].set_linewidth(0.9)

        ax.xaxis.set_major_locator(FixedLocator(x_major_ticks))
        ax.xaxis.set_minor_locator(MultipleLocator(10))
        ax.yaxis.set_major_locator(MultipleLocator(ymajor[r]))
        ax.yaxis.set_minor_locator(MultipleLocator(yminor[r]))
        ax.yaxis.set_major_formatter(FuncFormatter(fmt))
        ax.tick_params(which='major', direction='out', length=4, width=0.8,
                       color=SPINE, labelsize=10.5, pad=2, labelcolor='#111111')
        ax.tick_params(which='minor', direction='out', length=2.8, width=0.7,
                       color=SPINE)
        if c == 1:
            ax.tick_params(axis='y', labelleft=False)

        for d in month_start_days:
            ax.axvline(d, color='#8a8a8a', ls=(0, (1, 2)), lw=0.7, zorder=1)
        ax.axhline(0, color='#222222', ls=(0, (4, 3)), lw=0.8, zorder=1)

        blk, gry, fb, fg = panels[letter]
        gx, gy = xy(gry)
        ax.plot(gx, gy, color=GRAY, lw=0.85, zorder=2)
        bx, by = xy(blk)
        ax.plot(bx, by, color=BLACK, lw=0.85, zorder=3)
        fx, fy = xy(fg)
        ax.plot(fx, fy, color='#a9a9a9', lw=1.0, zorder=4)
        fx, fy = xy(fb)
        ax.plot(fx, fy, color='#2a2a2a', lw=0.9, zorder=5)
        ox, oy = onsets[letter]
        ax.plot([ox], [oy], 'o', ms=6, mfc='white', mec='#777777', mew=0.8,
                zorder=6)

        lx, ly = letter_pos[letter]
        ax.text(lx, ly, letter, transform=ax.transAxes, fontsize=12,
                fontweight='bold', ha='left', va='center')
        if c == 0:
            sx, sy = species_pos[r]
            ax.text(sx, sy, species[r], transform=ax.transAxes, fontsize=13.3,
                    style='italic', ha='left', va='center')

        if r == 0:
            trans = mtrans.blended_transform_factory(ax.transData, ax.transAxes)
            for m, d in zip(months, month_label_days):
                ax.text(d, 0.995, m, transform=trans, ha='center',
                        va='bottom', fontsize=10.5, clip_on=False)

# y labels
for yc in [138.0, 392.5, 640.8]:
    fig.text(50.7 / W, 1 - yc / H, ylabel, rotation=90, ha='center',
             va='center', fontsize=12.4)
# x labels
fig.text(260 / W, 1 - 791.7 / H, xlabels[0], ha='center', va='center',
         fontsize=12)
fig.text(607.5 / W, 1 - 791.7 / H, xlabels[1], ha='center', va='center',
         fontsize=12)

fig.savefig('out.png', dpi=100)
